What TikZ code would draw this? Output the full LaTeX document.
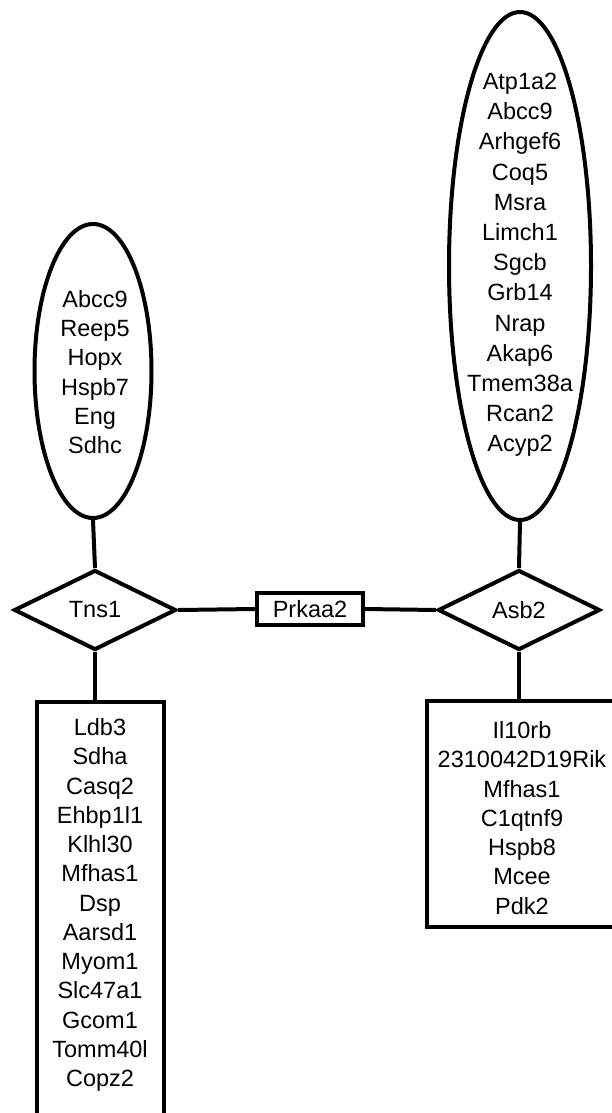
\documentclass[tikz,border=0pt]{standalone}
\usepackage{fontspec}
\setmainfont{Liberation Sans}
\usetikzlibrary{shapes.geometric}

\begin{document}
\begin{tikzpicture}[x=1pt, y=-1pt,
    every node/.style={font=\fontsize{23.5}{29.25}\selectfont},
    link/.style={line width=4pt},
    gene/.style={draw, line width=4pt, diamond, minimum width=162pt, minimum height=80pt, inner sep=0pt},
    group/.style={draw, line width=4pt, ellipse, inner sep=0pt},
    list/.style={draw, line width=4pt, rectangle, anchor=north, inner sep=0pt},
    genes/.style={align=center, inner sep=0pt}]
  \useasboundingbox (0,0) rectangle (612,1113);

  \node[gene] (tns) at (95,610) {Tns1};
  \node[gene] (asb) at (519,610) {Asb2};
  \node[draw, line width=4pt, minimum width=106pt, minimum height=32pt, inner sep=0pt] (prk) at (310,609) {Prkaa2};

  \node[group, minimum width=117pt, minimum height=294pt] (tnsup) at (93,371) {};
  \node[genes] (tnsupgenes) at (95,372) {Abcc9\\Reep5\\Hopx\\Hspb7\\Eng\\Sdhc};

  \node[group, minimum width=142pt, minimum height=508pt] (asbup) at (520,266) {};
  \node[genes, font=\fontsize{23.5}{30.2}\selectfont] (asbupgenes) at (520,265) {Atp1a2\\Abcc9\\Arhgef6\\Coq5\\Msra\\Limch1\\Sgcb\\Grb14\\Nrap\\Akap6\\Tmem38a\\Rcan2\\Acyp2};

  \node[list, minimum width=127pt, minimum height=440pt] (tnsdown) at (100.5,700) {};
  \node[genes] (tnsdowngenes) at (100,905) {Ldb3\\Sdha\\Casq2\\Ehbp1l1\\Klhl30\\Mfhas1\\Dsp\\Aarsd1\\Myom1\\Slc47a1\\Gcom1\\Tomm40l\\Copz2};

  \node[list, minimum width=187pt, minimum height=226pt] (asbdown) at (520.5,699) {};
  \node[genes] (asbdowngenes) at (522,818) {Il10rb\\2310042D19Rik\\Mfhas1\\C1qtnf9\\Hspb8\\Mcee\\Pdk2};

  \draw[link] (tnsup.south) -- (tns.north);
  \draw[link] (asbup.south) -- (asb.north);
  \draw[link] (tns.east) -- (prk.west);
  \draw[link] (prk.east) -- (asb.west);
  \draw[link] (tns.south) -- (tns.south |- tnsdown.north);
  \draw[link] (asb.south) -- (asb.south |- asbdown.north);
\end{tikzpicture}
\end{document}
